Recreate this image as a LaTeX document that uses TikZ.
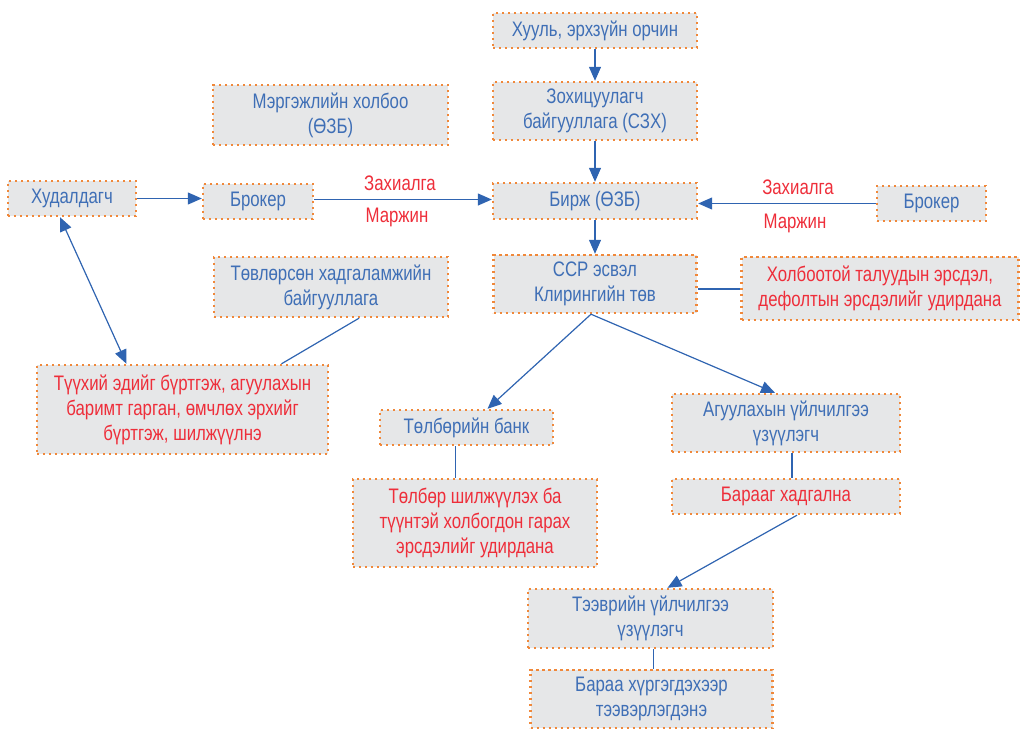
\documentclass[tikz,border=0pt]{standalone}
\usepackage{fontspec}
\setmainfont{Liberation Sans}[FakeStretch=0.8]
\usetikzlibrary{arrows.meta}
\definecolor{boxfill}{HTML}{E6E7E8}
\definecolor{dotorange}{HTML}{F0883A}
\definecolor{txtblue}{HTML}{3F6FB6}
\definecolor{txtred}{HTML}{EE2E3A}
\definecolor{lineblue}{HTML}{2F64B1}
\tikzset{
  box/.style={rectangle, fill=boxfill, draw=dotorange, line width=2.4pt,
    dash pattern=on 2.4pt off 3.6pt, align=center, inner sep=0pt,
    font=\fontsize{21}{25}\selectfont, text=txtblue},
  redbox/.style={box, text=txtred},
  lbl/.style={font=\fontsize{21}{25}\selectfont, text=txtred, inner sep=0pt},
  conn/.style={draw=lineblue, line width=1.2pt},
  arr/.style={conn, -{Triangle[length=14pt,width=12pt]}},
  darr/.style={conn, {Triangle[length=14pt,width=12pt]}-{Triangle[length=14pt,width=12pt]}},
}
\begin{document}
\begin{tikzpicture}[x=1pt,y=-1pt]
\useasboundingbox (0,0) rectangle (1022,729);
\node[box, minimum width=204pt, minimum height=35pt] (n1) at (595,30.5) {Хууль, эрхзүйн орчин};
\node[box, minimum width=204pt, minimum height=58pt] (n2) at (595,111) {Зохицуулагч\\байгууллага (СЗХ)};
\node[box, minimum width=235pt, minimum height=60pt] (n3) at (330.5,115) {Мэргэжлийн холбоо\\(ӨЗБ)};
\node[box, minimum width=128pt, minimum height=35pt] (n4) at (72,198.5) {Худалдагч};
\node[box, minimum width=110pt, minimum height=35pt] (n5) at (258,201.5) {Брокер};
\node[box, minimum width=204pt, minimum height=36pt] (n6) at (595,201) {Бирж (ӨЗБ)};
\node[box, minimum width=109pt, minimum height=35pt] (n7) at (931.5,203.5) {Брокер};
\node[lbl] (z1) at (400,183) {Захиалга};
\node[lbl] (m1) at (397,217) {Маржин};
\node[lbl] (z2) at (798,187) {Захиалга};
\node[lbl] (m2) at (795,223) {Маржин};
\node[box, minimum width=234pt, minimum height=60pt] (n9) at (331,287) {Төвлөрсөн хадгаламжийн\\байгууллага};
\node[box, minimum width=203pt, minimum height=58pt] (n10) at (595,284) {ССР эсвэл\\Клирингийн төв};
\node[redbox, minimum width=277pt, minimum height=63pt] (n11) at (880,288.5) {Холбоотой талуудын эрсдэл,\\дефолтын эрсдэлийг удирдана};
\node[redbox, minimum width=291pt, minimum height=89pt] (n12) at (182.5,409.5) {Түүхий эдийг бүртгэж, агуулахын\\баримт гарган, өмчлөх эрхийг\\бүртгэж, шилжүүлнэ};
\node[box, minimum width=173pt, minimum height=35pt] (n13) at (466.5,427.5) {Төлбөрийн банк};
\node[redbox, minimum width=244pt, minimum height=88pt] (n14) at (475,523) {Төлбөр шилжүүлэх ба\\түүнтэй холбогдон гарах\\эрсдэлийг удирдана};
\node[box, minimum width=228pt, minimum height=58pt] (n15) at (786,423) {Агуулахын үйлчилгээ\\үзүүлэгч};
\node[redbox, minimum width=228pt, minimum height=35pt] (n16) at (786,496.5) {Барааг хадгална};
\node[box, minimum width=245pt, minimum height=59pt] (n17) at (650.5,618.5) {Тээврийн үйлчилгээ\\үзүүлэгч};
\node[box, minimum width=242pt, minimum height=58pt] (n18) at (651.5,699) {Бараа хүргэгдэхээр\\тээвэрлэгдэнэ};
% connectors
\draw[arr] (n1.south) -- (n2.north);
\draw[arr] (n2.south) -- (n6.north);
\draw[arr] (n6.south) -- (n10.north);
\draw[arr] (n4.east) -- (n4.east -| n5.west);
\draw[arr] ([yshift=2pt]n5.east) -- ([yshift=2pt]n5.east -| n6.west);
\draw[arr] (n7.west) -- (n7.west -| n6.east);
\draw[darr] ([xshift=-12pt]n4.south) -- ([xshift=-56pt]n12.north);
\draw[conn] ([xshift=28pt]n9.south) -- ([xshift=99pt]n12.north);
\draw[conn] ([yshift=-5pt]n10.east) -- ([yshift=-5pt]n10.east -| n11.west);
\draw[arr] ([xshift=-4pt]n10.south) -- ([xshift=21pt]n13.north);
\draw[arr] ([xshift=-4pt]n10.south) -- ([xshift=-11pt]n15.north);
\draw[conn] ([xshift=-11pt]n13.south) -- ([xshift=-11pt]n13.south |- n14.north);
\draw[conn] ([xshift=6pt]n15.south) -- ([xshift=6pt]n15.south |- n16.north);
\draw[arr] ([xshift=11pt]n16.south) -- ([xshift=17pt]n17.north);
\draw[conn] ([xshift=3pt]n17.south) -- ([xshift=3pt]n17.south |- n18.north);
\end{tikzpicture}
\end{document}
